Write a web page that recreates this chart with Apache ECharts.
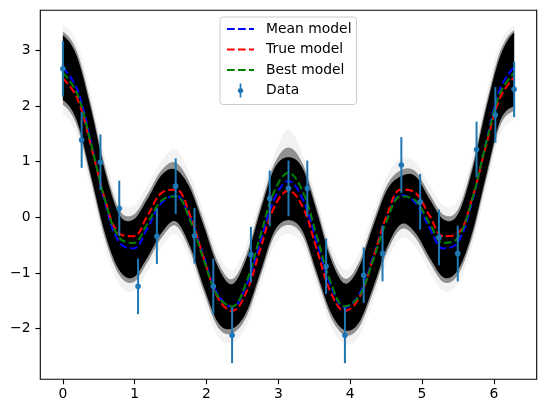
<!DOCTYPE html>
<html><head><meta charset="utf-8">
<script src="https://cdn.jsdelivr.net/npm/echarts@6/dist/echarts.min.js"></script>
<style>html,body{margin:0;padding:0;background:#fff}#c{width:546px;height:413px}</style>
</head><body><div id="c"></div>
<script>
// model grid (x values at which the model curves were read)
const gridX = [0, 0.1963, 0.3927, 0.5890, 0.7854, 0.9817, 1.1781, 1.3744, 1.5708, 1.7671, 1.9635, 2.1598, 2.3562, 2.5525, 2.7489, 2.9452, 3.1416, 3.3379, 3.5343, 3.7306, 3.9270, 4.1233, 4.3197, 4.5160, 4.7124, 4.9087, 5.1051, 5.3014, 5.4978, 5.6941, 5.8905, 6.0868, 6.2832];
const meanModel = [2.69, 2.31, 1.34, 0.26, -0.45, -0.56, -0.19, 0.26, 0.39, 0.01, -0.71, -1.39, -1.61, -1.23, -0.44, 0.33, 0.65, 0.33, -0.44, -1.23, -1.62, -1.39, -0.71, 0.01, 0.40, 0.26, -0.19, -0.56, -0.45, 0.26, 1.34, 2.31, 2.71];
const trueModel = [2.50, 2.15, 1.28, 0.32, -0.29, -0.34, 0.03, 0.44, 0.50, 0.05, -0.74, -1.45, -1.68, -1.35, -0.57, 0.19, 0.48, 0.19, -0.57, -1.35, -1.68, -1.45, -0.74, 0.05, 0.50, 0.44, 0.03, -0.34, -0.29, 0.32, 1.28, 2.15, 2.52];
const bestModel = [2.60, 2.23, 1.32, 0.30, -0.37, -0.46, -0.11, 0.30, 0.38, -0.04, -0.77, -1.42, -1.60, -1.17, -0.33, 0.47, 0.80, 0.47, -0.33, -1.17, -1.60, -1.42, -0.77, -0.04, 0.38, 0.30, -0.11, -0.46, -0.37, 0.30, 1.32, 2.23, 2.60];
// posterior sample spread (dense core and faint halo)
const coreLower = [2.11, 1.73, 0.74, -0.30, -0.95, -1.08, -0.72, -0.28, -0.07, -0.51, -1.26, -1.89, -2.00, -1.71, -0.99, -0.25, -0.05, -0.25, -0.99, -1.71, -2.03, -1.89, -1.26, -0.53, -0.12, -0.28, -0.72, -1.08, -0.95, -0.30, 0.74, 1.73, 2.00];
const coreUpper = [3.27, 2.89, 1.94, 0.82, 0.05, -0.04, 0.33, 0.76, 0.86, 0.53, -0.16, -0.89, -1.20, -0.75, 0.11, 0.88, 1.08, 0.88, 0.11, -0.75, -1.19, -0.89, -0.16, 0.50, 0.74, 0.74, 0.33, -0.04, 0.05, 0.82, 1.94, 2.89, 3.32];
const haloLower = [1.86, 1.48, 0.49, -0.55, -1.20, -1.33, -0.97, -0.53, -0.30, -0.76, -1.51, -2.14, -2.25, -1.96, -1.24, -0.50, -0.30, -0.50, -1.24, -1.96, -2.28, -2.14, -1.51, -0.78, -0.37, -0.53, -0.97, -1.33, -1.20, -0.55, 0.49, 1.48, 1.75];
const haloUpper = [3.47, 3.14, 2.19, 1.07, 0.30, 0.21, 0.58, 1.01, 1.22, 0.78, 0.09, -0.64, -0.95, -0.50, 0.36, 1.13, 1.58, 1.13, 0.36, -0.50, -0.94, -0.64, 0.09, 0.75, 1.06, 0.99, 0.58, 0.21, 0.30, 1.07, 2.19, 3.14, 3.45];
// observed data
const dataX = [0, 0.2618, 0.5236, 0.7854, 1.0472, 1.3090, 1.5708, 1.8326, 2.0944, 2.3562, 2.6180, 2.8798, 3.1416, 3.4034, 3.6652, 3.9270, 4.1888, 4.4506, 4.7124, 4.9742, 5.2360, 5.4978, 5.7596, 6.0214, 6.2832];
const dataY = [2.67, 1.39, 0.99, 0.16, -1.24, -0.34, 0.56, -0.33, -1.24, -2.12, -0.67, 0.34, 0.52, 0.52, -0.88, -2.12, -1.04, -0.65, 0.94, 0.28, -0.36, -0.65, 1.22, 1.84, 2.30];
const dataErr = [0.5, 0.5, 0.5, 0.5, 0.5, 0.5, 0.5, 0.5, 0.5, 0.5, 0.5, 0.5, 0.5, 0.5, 0.5, 0.5, 0.5, 0.5, 0.5, 0.5, 0.5, 0.5, 0.5, 0.5, 0.5];
const xTicks = [0, 1, 2, 3, 4, 5, 6];
const yTicks = [-2, -1, 0, 1, 2, 3];

const FONT = 'DejaVu Sans';
const SMOOTH = 0.4;
const DASH = [7.7, 3.3];

function pairs(xs, ys) { return xs.map((x, i) => [x, ys[i]]); }

// smooth rendering path (Catmull-Rom) through the read points, for drawing only
function densify(xs, ys, n) {
  const out = [];
  const L = xs.length;
  for (let i = 0; i < L - 1; i++) {
    const p0 = ys[Math.max(i - 1, 0)], p1 = ys[i], p2 = ys[i + 1], p3 = ys[Math.min(i + 2, L - 1)];
    for (let s = 0; s < n; s++) {
      const t = s / n;
      const y = 0.5 * (2 * p1 + (-p0 + p2) * t + (2 * p0 - 5 * p1 + 4 * p2 - p3) * t * t + (-p0 + 3 * p1 - 3 * p2 + p3) * t * t * t);
      out.push([xs[i] + (xs[i + 1] - xs[i]) * t, y]);
    }
  }
  out.push([xs[L - 1], ys[L - 1]]);
  return out;
}
function band(id, lower, upper, color) {
  return {
    type: 'custom', name: id, data: [[0, 0]], silent: true, z: 1, clip: true,
    renderItem: function (params, api) {
      const up = densify(gridX, upper, 10).map(p => api.coord(p));
      const lo = densify(gridX, lower, 10).map(p => api.coord(p)).reverse();
      return { type: 'polygon', shape: { points: up.concat(lo) }, style: { fill: color } };
    }
  };
}
const mix = (a, b, f) => a.map((v, i) => v + (b[i] - v) * f);
const midLower = mix(coreLower, haloLower, 0.35);
const midUpper = mix(coreUpper, haloUpper, 0.35);

function modelLine(name, ys, color) {
  return { type: 'line', name: name, data: pairs(gridX, ys), smooth: SMOOTH, symbol: 'none', showSymbol: false,
    lineStyle: { color: color, width: 2.08, type: DASH }, itemStyle: { color: color }, z: 5 };
}
const minus = v => (v < 0 ? '\u2212' + Math.abs(v) : String(v));
const lineLegendItem = name => ({ name: name, itemStyle: { color: 'rgba(0,0,0,0)', borderWidth: 0, opacity: 0 } });

const chart = echarts.init(document.getElementById('c'), null, { renderer: 'canvas' });
chart.setOption({
  animation: false,
  backgroundColor: '#fff',
  grid: { left: 40.3, right: 9.3, top: 10.3, bottom: 33.7, show: true, borderColor: '#000', borderWidth: 1.1,
    backgroundColor: 'transparent', containLabel: false, outerBoundsMode: 'none' },
  xAxis: {
    type: 'value', min: -0.314, max: 6.597, splitLine: { show: false }, axisLine: { show: false, onZero: false },
    axisTick: { show: true, length: 4.9, lineStyle: { color: '#000', width: 1.1 }, customValues: xTicks },
    axisLabel: { customValues: xTicks, margin: 8.5, fontFamily: FONT, fontSize: 13.9, color: '#000', formatter: minus }
  },
  yAxis: {
    type: 'value', min: -2.91, max: 3.72, splitLine: { show: false }, axisLine: { show: false, onZero: false },
    axisTick: { show: true, length: 4.9, lineStyle: { color: '#000', width: 1.1 }, customValues: yTicks },
    axisLabel: { customValues: yTicks, margin: 9.8, fontFamily: FONT, fontSize: 13.9, color: '#000', formatter: minus }
  },
  legend: {
    data: [
      lineLegendItem('Mean model'), lineLegendItem('True model'), lineLegendItem('Best model'),
      { name: 'Data', icon: 'path://M-1,-8 L1,-8 L1,-2.6 L-1,-2.6 Z M-1,2.6 L1,2.6 L1,8 L-1,8 Z M-3,0 A3,3 0 1,1 3,0 A3,3 0 1,1 -3,0 Z' }
    ],
    orient: 'vertical', left: 220, top: 17, itemWidth: 27, itemHeight: 14, itemGap: 6.5,
    padding: [5, 5, 7, 6], backgroundColor: 'rgba(255,255,255,0.8)', borderColor: '#cccccc', borderWidth: 1, borderRadius: 3,
    textStyle: { fontFamily: FONT, fontSize: 13.9, color: '#000', padding: [0, 0, 0, 7], lineHeight: 14 },
    selectedMode: false
  },
  series: [
    band('halo', haloLower, haloUpper, 'rgba(0,0,0,0.05)'),
    band('mid', midLower, midUpper, 'rgba(0,0,0,0.4)'),
    band('core', coreLower, coreUpper, '#000'),
    modelLine('Mean model', meanModel, '#0000ff'),
    modelLine('True model', trueModel, '#ff0000'),
    modelLine('Best model', bestModel, '#008000'),
    {
      type: 'custom', name: 'Data', data: dataX.map((x, i) => [x, dataY[i], dataErr[i]]), encode: { x: 0, y: 1 },
      itemStyle: { color: '#1f77b4' }, z: 10,
      renderItem: function (params, api) {
        const x = api.value(0), y = api.value(1), e = api.value(2);
        const top = api.coord([x, y + e]), bot = api.coord([x, y - e]), c = api.coord([x, y]);
        return { type: 'group', children: [
          { type: 'line', shape: { x1: top[0], y1: top[1], x2: bot[0], y2: bot[1] }, style: { stroke: '#1f77b4', lineWidth: 2 } },
          { type: 'circle', shape: { cx: c[0], cy: c[1], r: 2.8 }, style: { fill: '#1f77b4' } }
        ] };
      }
    }
  ]
});
</script></body></html>
